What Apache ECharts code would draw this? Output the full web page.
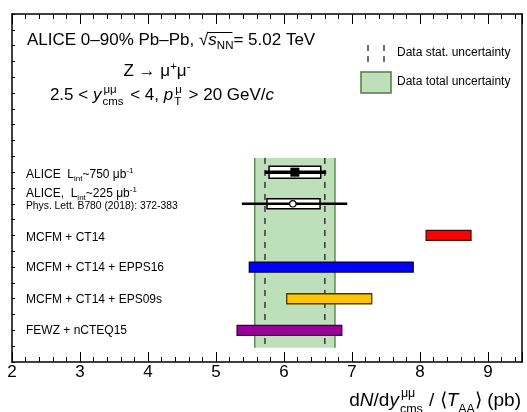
<!DOCTYPE html>
<html><head><meta charset="utf-8">
<script src="https://cdn.jsdelivr.net/npm/echarts@6/dist/echarts.min.js"></script>
<style>html,body{margin:0;padding:0;background:#fff}#c{width:527px;height:412px}</style>
</head><body><div id="c"></div>
<script>
// ---------------- data ----------------
const xTicks = [2, 3, 4, 5, 6, 7, 8, 9];
const modelNames = ['MCFM + CT14', 'MCFM + CT14 + EPPS16', 'MCFM + CT14 + EPS09s', 'FEWZ + nCTEQ15'];
const modelLow  = [8.09, 5.49, 6.04, 5.31];
const modelHigh = [8.75, 7.90, 7.29, 6.85];
const modelRow  = [4, 3, 2, 1];
const aliceNames   = ['ALICE  L_int~750 μb^-1', 'ALICE,  L_int~225 μb^-1'];
const aliceCentral = [6.16, 6.13];
const aliceBoxLow  = [5.78, 5.75];
const aliceBoxHigh = [6.54, 6.53];
const aliceBarLow  = [5.72, 5.38];
const aliceBarHigh = [6.62, 6.93];
const aliceRow     = [6, 5];
const dataTotal = [5.57, 6.75];   // data total uncertainty (band)
const dataStat  = [5.72, 6.60];   // data stat. uncertainty (dashed)

// ---------------- style / layout ----------------
const F = "'Liberation Sans', Arial, Helvetica, sans-serif";
const BAND_BOTTOM = 0.45, BAND_TOP = 6.45;
const modelFill   = ['#ff0000', '#0000ff', '#ffc400', '#990099'];
const modelBorder = ['#4a0a0a', '#000040', '#4a3a00', '#3a003a'];

const mctx = document.createElement('canvas').getContext('2d');
function tw(s, fs, it) { mctx.font = (it ? 'italic ' : '') + fs + 'px ' + F; return mctx.measureText(s).width; }
function P(s, fs, it, rise) { return {s: s, fs: fs, it: !!it, rise: rise || 0}; }
function GAP(w) { return {gap: w}; }
function textEl(x, yb, q) {
  return {type: 'text', x: x, y: yb - q.rise - 0.35 * q.fs, silent: true, z: 100,
    style: {text: q.s, fontSize: q.fs, fontFamily: F, fontStyle: q.it ? 'italic' : 'normal',
            fill: '#000', align: 'left', verticalAlign: 'middle'}};
}
function richLine(x0, yb, parts, align, out) {
  const adv = parts.map(p => p.gap != null ? p.gap : p.stack ? Math.max.apply(null, p.stack.map(q => tw(q.s, q.fs, q.it) + (q.dx || 0))) : tw(p.s, p.fs, p.it));
  const total = adv.reduce((a, b) => a + b, 0);
  let x = align === 'right' ? x0 - total : align === 'center' ? x0 - total / 2 : x0;
  const pos = [];
  parts.forEach((p, i) => {
    if (p.gap == null) (p.stack || [p]).forEach(q => out.push(textEl(x + (q.dx || 0), yb, q)));
    pos.push(x);
    x += adv[i];
  });
  pos.push(x);
  return pos;
}
function S(q, dx) { q.dx = dx; return q; }

const G = [];
// title block
const TF = 17;
const tpos = richLine(27, 46, [P('ALICE 0–90% Pb–Pb, ', TF), P('√', TF), P('s', TF, true), P('NN', 11.5, false, -4), P('= 5.02 TeV', TF)], 'left', G);
G.push({type: 'line', silent: true, z: 100, shape: {x1: tpos[2] - 0.5, y1: 46 - 13.5, x2: tpos[4] - 1, y2: 46 - 13.5}, style: {stroke: '#000', lineWidth: 1}});
richLine(157, 77, [P('Z → μ', TF), P('+', 11.5, false, 6), P('μ', TF), P('-', 11.5, false, 6)], 'center', G);
richLine(162, 101, [P('2.5 < ', TF), P('y', TF, true), GAP(1), {stack: [S(P('μμ', 11.5, false, 7), 1), P('cms', 11.5, false, -5)]}, GAP(2),
  P(' < 4, ', TF), P('p', TF, true), GAP(1), {stack: [S(P('μ', 11.5, false, 7), 1), P('T', 11.5, false, -5)]}, GAP(2), P(' > 20 GeV/', TF), P('c', TF, true)], 'center', G);

// row labels
function aliceParts(name) {
  const m = name.match(/^(.*L)_int(.*μb)\^(-1)$/);
  return [P(m[1], 12), P('int', 8, false, -3), P(m[2], 12), P(m[3], 8, false, 5)];
}
richLine(26, 179, aliceParts(aliceNames[0]), 'left', G);
richLine(26, 198, aliceParts(aliceNames[1]), 'left', G);
richLine(26, 210, [P('Phys. Lett. B780 (2018): 372-383', 10.3)], 'left', G);
const modelBase = [242, 272, 304, 335];
modelNames.forEach((n, i) => richLine(26, modelBase[i], [P(n, 12)], 'left', G));

// axis title
const AF = 19;
richLine(521, 407, [P('d', AF), P('N', AF, true), P('/d', AF), P('y', AF, true), GAP(1),
  {stack: [S(P('μμ', 12.5, false, 9), 1), P('cms', 12.5, false, -7)]}, GAP(1), P(' / ⟨', AF), P('T', AF, true),
  P('AA', 12.5, false, -7), P('⟩ (pb)', AF)], 'right', G);

// legend
[368, 384].forEach(x => G.push({type: 'line', silent: true, z: 100, shape: {x1: x, y1: 45, x2: x, y2: 63},
  style: {stroke: '#404040', lineWidth: 1.5, lineDash: [6, 5]}}));
G.push({type: 'rect', silent: true, z: 100, shape: {x: 361, y: 72, width: 30, height: 21},
  style: {fill: '#bde0ba', stroke: '#4f7d3f', lineWidth: 1.5}});
richLine(397, 57, [P('Data stat. uncertainty', 12)], 'left', G);
richLine(397, 86, [P('Data total uncertainty', 12)], 'left', G);

// ---------------- chart ----------------
const chart = echarts.init(document.getElementById('c'), null, {renderer: 'canvas'});
const axBase = {type: 'value', min: 2, max: 9.5, splitLine: {show: false}};
const lineSt = {color: '#000', width: 1.5};
const option = {
  animation: false,
  backgroundColor: '#fff',
  grid: {left: 12, right: 5, top: 14, bottom: 50, show: false},
  xAxis: [
    Object.assign({}, axBase, {position: 'bottom', interval: 1, axisLine: {show: true, lineStyle: lineSt},
      axisTick: {show: true, inside: true, length: 10, lineStyle: {color: '#000', width: 1}},
      axisLabel: {show: true, margin: 2, fontSize: 17, fontFamily: F, color: '#000',
        formatter: v => xTicks.indexOf(v) >= 0 ? String(v) : ''}}),
    Object.assign({}, axBase, {position: 'bottom', interval: 0.2, axisLine: {show: false},
      axisTick: {show: true, inside: true, length: 5, lineStyle: {color: '#000', width: 1}}, axisLabel: {show: false}}),
    Object.assign({}, axBase, {position: 'top', interval: 1, axisLine: {show: true, lineStyle: lineSt},
      axisTick: {show: true, inside: true, length: 10, lineStyle: {color: '#000', width: 1}}, axisLabel: {show: false}}),
    Object.assign({}, axBase, {position: 'top', interval: 0.2, axisLine: {show: false},
      axisTick: {show: true, inside: true, length: 5, lineStyle: {color: '#000', width: 1}}, axisLabel: {show: false}})
  ],
  yAxis: [
    {type: 'value', min: 0, max: 11, interval: 0.5, position: 'left', splitLine: {show: false},
      axisLine: {show: true, lineStyle: lineSt}, axisTick: {show: true, inside: true, length: 3, lineStyle: {color: '#000'}},
      axisLabel: {show: false}},
    {type: 'value', min: 0, max: 11, position: 'right', splitLine: {show: false},
      axisLine: {show: true, lineStyle: lineSt}, axisTick: {show: false}, axisLabel: {show: false}}
  ],
  series: [
    { // total uncertainty band
      type: 'custom', silent: true, z: 1, xAxisIndex: 0, yAxisIndex: 0,
      data: [[dataTotal[0], dataTotal[1]]], encode: {x: [0, 1]},
      renderItem: (params, api) => {
        const a = api.coord([api.value(0), BAND_TOP]);
        const b = api.coord([api.value(1), BAND_BOTTOM]);
        return {type: 'group', children: [
          {type: 'rect', shape: {x: a[0], y: a[1], width: b[0] - a[0], height: b[1] - a[1]}, style: {fill: '#bde0ba'}},
          {type: 'line', shape: {x1: a[0], y1: a[1], x2: a[0], y2: b[1]}, style: {stroke: '#5e8f50', lineWidth: 1.5}},
          {type: 'line', shape: {x1: b[0], y1: a[1], x2: b[0], y2: b[1]}, style: {stroke: '#5e8f50', lineWidth: 1.5}}
        ]};
      }
    },
    { // stat uncertainty dashed lines
      type: 'custom', silent: true, z: 2, xAxisIndex: 0, yAxisIndex: 0,
      data: dataStat.map(v => [v]), encode: {x: 0},
      renderItem: (params, api) => {
        const a = api.coord([api.value(0), BAND_TOP]);
        const b = api.coord([api.value(0), BAND_BOTTOM]);
        return {type: 'line', shape: {x1: a[0], y1: a[1], x2: b[0], y2: b[1]},
          style: {stroke: '#404040', lineWidth: 1.6, lineDash: [6, 6]}};
      }
    },
    { // model predictions
      type: 'custom', silent: true, z: 3, xAxisIndex: 0, yAxisIndex: 0,
      data: modelLow.map((l, i) => [l, modelHigh[i], modelRow[i]]), encode: {x: [0, 1], y: 2},
      renderItem: (params, api) => {
        const i = params.dataIndex;
        const a = api.coord([api.value(0), api.value(2)]);
        const b = api.coord([api.value(1), api.value(2)]);
        const h = 10;
        return {type: 'rect', shape: {x: a[0], y: a[1] - h / 2, width: b[0] - a[0], height: h},
          style: {fill: modelFill[i], stroke: modelBorder[i], lineWidth: 1.3}};
      }
    },
    { // ALICE measurements
      type: 'custom', silent: true, z: 4, xAxisIndex: 0, yAxisIndex: 0,
      data: aliceCentral.map((c, i) => [aliceBoxLow[i], aliceBoxHigh[i], aliceBarLow[i], aliceBarHigh[i], c, aliceRow[i]]),
      encode: {x: [0, 1, 2, 3, 4], y: 5},
      renderItem: (params, api) => {
        const i = params.dataIndex;
        const y = api.value(5);
        const bl = api.coord([api.value(0), y]), bh = api.coord([api.value(1), y]);
        const el = api.coord([api.value(2), y]), eh = api.coord([api.value(3), y]);
        const c = api.coord([api.value(4), y]);
        const boxH = i === 0 ? 12 : 10;
        const lw = i === 0 ? 3.5 : 2.5;
        const marker = i === 0
          ? {type: 'rect', shape: {x: c[0] - 4.5, y: c[1] - 4.5, width: 9, height: 9}, style: {fill: '#000'}}
          : {type: 'circle', shape: {cx: c[0], cy: c[1], r: 3.2}, style: {fill: '#fff', stroke: '#000', lineWidth: 1.2}};
        return {type: 'group', children: [
          {type: 'rect', shape: {x: bl[0], y: bl[1] - boxH / 2, width: bh[0] - bl[0], height: boxH},
            style: {fill: '#fff', stroke: '#000', lineWidth: 1.5}},
          {type: 'line', shape: {x1: el[0], y1: el[1], x2: eh[0], y2: eh[1]}, style: {stroke: '#000', lineWidth: lw}},
          marker
        ]};
      }
    }
  ],
  graphic: {elements: G}
};
chart.setOption(option);
</script>
</body></html>
